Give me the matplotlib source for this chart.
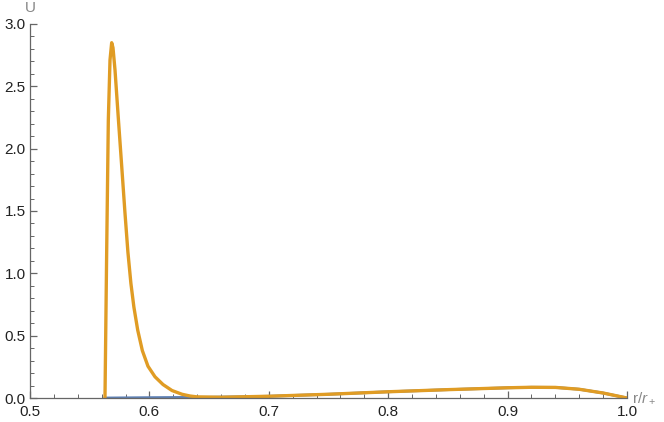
import matplotlib
matplotlib.use("Agg")
import matplotlib.pyplot as plt
from matplotlib.ticker import MultipleLocator

plt.rcParams["font.family"] = ["Liberation Sans", "DejaVu Sans"]
plt.rcParams["mathtext.fontset"] = "custom"
plt.rcParams["mathtext.rm"] = "Liberation Sans"
plt.rcParams["mathtext.it"] = "Liberation Sans:italic"

# values
r_orange = [0.5628, 0.5642, 0.5656, 0.567, 0.5684, 0.5695, 0.5712, 0.574, 0.5768,
            0.5795, 0.582, 0.5845, 0.587, 0.5902, 0.5941, 0.5988, 0.6047, 0.6114,
            0.6189, 0.6273, 0.634, 0.64, 0.66, 0.7, 0.75, 0.8, 0.85, 0.9, 0.92,
            0.94, 0.96, 0.98, 1.0]
u_orange = [0.0, 1.16, 2.23, 2.71, 2.85, 2.81, 2.63, 2.24, 1.86,
            1.49, 1.17, 0.92, 0.73, 0.545, 0.38, 0.255, 0.17, 0.108,
            0.06, 0.03, 0.016, 0.009, 0.006, 0.014, 0.03, 0.05, 0.067, 0.082, 0.086,
            0.085, 0.07, 0.04, 0.0]

r_blue = [0.5628, 0.6, 0.65, 0.7, 0.75, 0.8, 0.85, 0.9, 0.92, 0.94, 0.96, 0.98, 1.0]
u_blue = [0.0, 0.003, 0.006, 0.014, 0.03, 0.05, 0.067, 0.082, 0.086, 0.085, 0.07, 0.04, 0.0]

BLUE = "#5E81B5"
ORANGE = "#E09C24"
AXIS = "#666666"

fig = plt.figure(figsize=(6.64, 4.22), dpi=100)
ax = fig.add_axes([30 / 664, 1 - 398 / 422, 597 / 664, 374 / 422])

ax.plot(r_blue, u_blue, color=BLUE, lw=2.0, solid_joinstyle="round")
ax.plot(r_orange, u_orange, color=ORANGE, lw=2.4, solid_joinstyle="round",
        solid_capstyle="round")

ax.set_xlim(0.5, 1.0)
ax.set_ylim(0.0, 3.0)
ax.xaxis.set_major_locator(MultipleLocator(0.1))
ax.xaxis.set_minor_locator(MultipleLocator(0.02))
ax.yaxis.set_major_locator(MultipleLocator(0.5))
ax.yaxis.set_minor_locator(MultipleLocator(0.1))
ax.xaxis.set_major_formatter(plt.FuncFormatter(lambda v, p: f"{v:.1f}"))
ax.yaxis.set_major_formatter(plt.FuncFormatter(lambda v, p: f"{v:.1f}"))

for s in ("top", "right"):
    ax.spines[s].set_visible(False)
for s in ("left", "bottom"):
    ax.spines[s].set_color(AXIS)
    ax.spines[s].set_linewidth(0.9)

ax.tick_params(which="both", direction="in", color=AXIS, labelsize=11,
               labelcolor="#222222")
ax.tick_params(which="major", length=5, width=0.9)
ax.tick_params(which="minor", length=3, width=0.7)
ax.tick_params(axis="x", pad=5)
ax.tick_params(axis="y", pad=3)

ax.text(0.0, 1.025, "U", transform=ax.transAxes, ha="center", va="bottom",
        fontsize=11, color="#888888")
ax.text(1.008, 0.0, r"r/$r_+$", transform=ax.transAxes, ha="left", va="center",
        fontsize=11, color="#888888")

fig.savefig("out.png", dpi=100)
